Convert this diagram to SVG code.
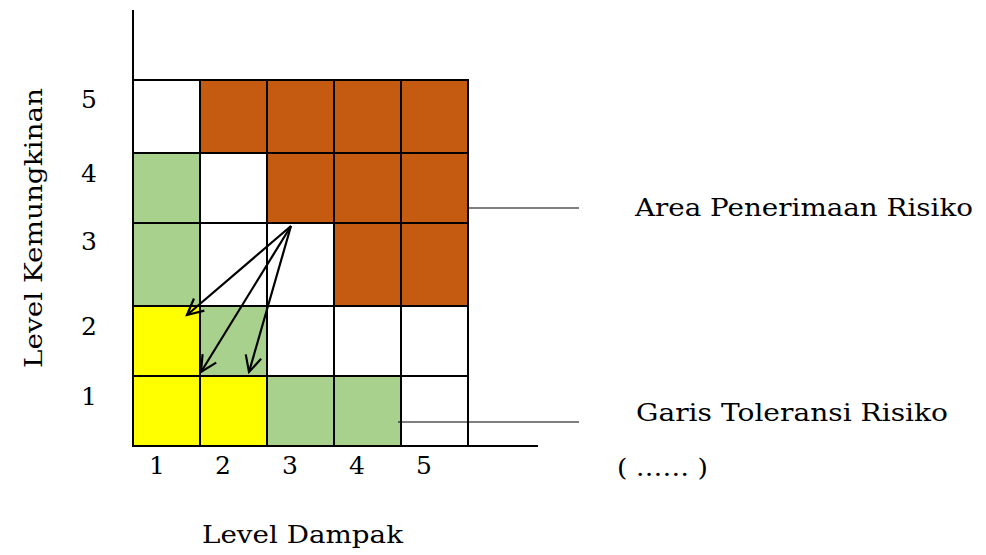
<svg xmlns="http://www.w3.org/2000/svg" width="986" height="555" viewBox="0 0 986 555">
<style>
text{font-family:"DejaVu Serif","Liberation Serif",serif;fill:#000;font-size:25px}
.g{stroke:#000;stroke-width:2}
.b{fill:#C55A11}.gr{fill:#A9D18E}.y{fill:#FFFF00}.w{fill:#FFFFFF}
.lead{stroke:#000;stroke-width:1.2}
.arr{stroke:#000;stroke-width:2.2;fill:none}
</style>
<defs>
<marker id="ah" markerUnits="userSpaceOnUse" markerWidth="24" markerHeight="24" refX="17" refY="9" orient="auto">
<path d="M1,1 L17,9 L1,17" fill="none" stroke="#000" stroke-width="2.2"/>
</marker>
</defs>
<rect width="986" height="555" fill="#fff"/>
<g id="grid">
<rect class="g w" x="133" y="80" width="67" height="73"/>
<rect class="g b" x="200" y="80" width="67" height="73"/>
<rect class="g b" x="267" y="80" width="67" height="73"/>
<rect class="g b" x="334" y="80" width="67" height="73"/>
<rect class="g b" x="401" y="80" width="67" height="73"/>
<rect class="g gr" x="133" y="153" width="67" height="70"/>
<rect class="g w" x="200" y="153" width="67" height="70"/>
<rect class="g b" x="267" y="153" width="67" height="70"/>
<rect class="g b" x="334" y="153" width="67" height="70"/>
<rect class="g b" x="401" y="153" width="67" height="70"/>
<rect class="g gr" x="133" y="223" width="67" height="83"/>
<rect class="g w" x="200" y="223" width="67" height="83"/>
<rect class="g w" x="267" y="223" width="67" height="83"/>
<rect class="g b" x="334" y="223" width="67" height="83"/>
<rect class="g b" x="401" y="223" width="67" height="83"/>
<rect class="g y" x="133" y="306" width="67" height="70"/>
<rect class="g gr" x="200" y="306" width="67" height="70"/>
<rect class="g w" x="267" y="306" width="67" height="70"/>
<rect class="g w" x="334" y="306" width="67" height="70"/>
<rect class="g w" x="401" y="306" width="67" height="70"/>
<rect class="g y" x="133" y="376" width="67" height="70"/>
<rect class="g y" x="200" y="376" width="67" height="70"/>
<rect class="g gr" x="267" y="376" width="67" height="70"/>
<rect class="g gr" x="334" y="376" width="67" height="70"/>
<rect class="g w" x="401" y="376" width="67" height="70"/>
</g>
<g id="axes">
<line class="g" x1="133" y1="10" x2="133" y2="447"/>
<line class="g" x1="132" y1="446" x2="538" y2="446"/>
</g>
<g id="connectors">
<line class="arr" x1="291" y1="226" x2="187" y2="315" marker-end="url(#ah)"/>
<line class="arr" x1="291" y1="226" x2="201" y2="372" marker-end="url(#ah)"/>
<line class="arr" x1="291" y1="226" x2="249" y2="372" marker-end="url(#ah)"/>
<line class="lead" x1="468" y1="208" x2="579" y2="208"/>
<line class="lead" x1="398" y1="422" x2="579" y2="422"/>
</g>
<g id="ylabels" text-anchor="middle">
<text x="89" y="108">5</text>
<text x="89" y="182">4</text>
<text x="89" y="250">3</text>
<text x="89" y="335">2</text>
<text x="89" y="405">1</text>
</g>
<g id="xlabels" text-anchor="middle">
<text x="157" y="474">1</text>
<text x="223" y="474">2</text>
<text x="290" y="474">3</text>
<text x="357" y="474">4</text>
<text x="424" y="474">5</text>
</g>
<g id="titles">
<text x="42" y="368" transform="rotate(-90 42 368)" textLength="280" lengthAdjust="spacingAndGlyphs">Level Kemungkinan</text>
<text x="202" y="543" textLength="201" lengthAdjust="spacingAndGlyphs">Level Dampak</text>
</g>
<g id="area-label"><text x="635" y="216" textLength="338" lengthAdjust="spacingAndGlyphs">Area Penerimaan Risiko</text></g>
<g id="garis-label"><text x="636" y="421" textLength="312" lengthAdjust="spacingAndGlyphs">Garis Toleransi Risiko</text></g>
<g id="dots-label"><text x="617" y="476" textLength="91" lengthAdjust="spacingAndGlyphs">( …… )</text></g>
</svg>
